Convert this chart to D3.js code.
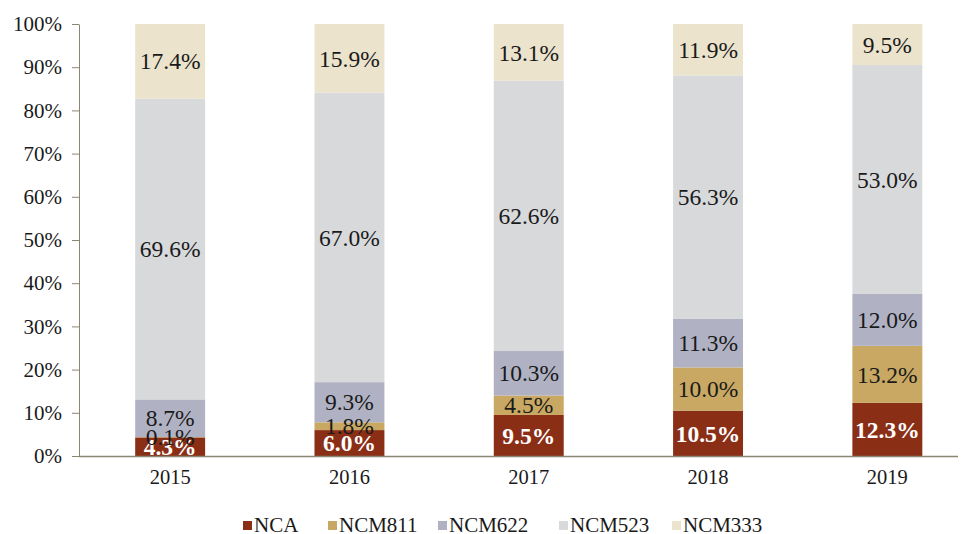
<!DOCTYPE html>
<html>
<head>
<meta charset="utf-8">
<style>
  body { margin: 0; background: #fff; }
  svg text { font-family: "Liberation Serif", "Times New Roman", Tinos, serif; }
</style>
</head>
<body>
<div id="chart"></div>
<script src="https://cdn.jsdelivr.net/npm/d3@7/dist/d3.min.js"></script>
<script>
const years = ["2015", "2016", "2017", "2018", "2019"];
const seriesNames = ["NCA", "NCM811", "NCM622", "NCM523", "NCM333"];
const colors = ["#8b2e16", "#c8a862", "#b0b2c4", "#d8d9db", "#ebe3cc"];
const nca    = [4.3, 6.0, 9.5, 10.5, 12.3];
const ncm811 = [0.1, 1.8, 4.5, 10.0, 13.2];
const ncm622 = [8.7, 9.3, 10.3, 11.3, 12.0];
const ncm523 = [69.6, 67.0, 62.6, 56.3, 53.0];
const ncm333 = [17.4, 15.9, 13.1, 11.9, 9.5];
const yTicks = [0, 10, 20, 30, 40, 50, 60, 70, 80, 90, 100];

const width = 964, height = 534;
const FONT = "'Liberation Serif', 'Times New Roman', serif";
const svg = d3.select("#chart").append("svg")
  .attr("width", width).attr("height", height)
  .attr("font-family", FONT);

const rows = years.map((yr, i) => ({
  year: yr, NCA: nca[i], NCM811: ncm811[i], NCM622: ncm622[i],
  NCM523: ncm523[i], NCM333: ncm333[i]
}));
const stacked = d3.stack().keys(seriesNames)(rows);

const x = d3.scaleBand().domain(years).range([80.5, 977]).paddingInner(0.61).paddingOuter(0.305);
const y = d3.scaleLinear().domain([0, 100]).range([456, 24]);

// bars
const groups = svg.append("g").selectAll("g")
  .data(stacked).enter().append("g")
  .attr("fill", (d, i) => colors[i]);

groups.selectAll("rect")
  .data(d => d)
  .enter().append("rect")
  .attr("x", d => x(d.data.year))
  .attr("width", x.bandwidth())
  .attr("y", d => y(Math.min(d[1], 100)))
  .attr("height", d => y(d[0]) - y(Math.min(d[1], 100)));

// labels
stacked.forEach((s, si) => {
  svg.append("g").selectAll("text")
    .data(s).enter().append("text")
    .attr("x", d => x(d.data.year) + x.bandwidth() / 2)
    .attr("y", d => y((d[0] + d[1]) / 2))
    .attr("dy", "0.35em")
    .attr("text-anchor", "middle")
    .attr("font-size", 23.5)
    .attr("font-weight", si === 0 ? "bold" : "normal")
    .attr("fill", si === 0 ? "#fff" : "#1a1a1a")
    .text(d => (d[1] - d[0]).toFixed(1) + "%");
});

// y axis
const yAxis = svg.append("g")
  .attr("transform", "translate(79,0)")
  .call(d3.axisLeft(y).tickValues(yTicks).tickSize(7).tickSizeOuter(0).tickFormat(d => d + "%"));
yAxis.attr("font-family", FONT);
yAxis.select(".domain").attr("stroke", "#8a8674");
yAxis.selectAll(".tick line").attr("stroke", "#8a8674");
yAxis.selectAll(".tick text")
  .attr("font-size", 21).attr("fill", "#1a1a1a").attr("x", -17);

// x axis
const xAxis = svg.append("g")
  .attr("transform", "translate(0,456)")
  .call(d3.axisBottom(x).tickSize(0));
xAxis.attr("font-family", FONT);
xAxis.select(".domain").remove();
svg.append("line")
  .attr("x1", 79).attr("x2", 958).attr("y1", 456.5).attr("y2", 456.5)
  .attr("stroke", "#8a8674").attr("stroke-width", 1.5);
xAxis.selectAll(".tick text")
  .attr("font-size", 20.5).attr("fill", "#1a1a1a").attr("dy", "1.2em");

// legend
const legendX = [243, 328, 438, 559, 672];
const legend = svg.append("g").selectAll("g")
  .data(seriesNames).enter().append("g")
  .attr("transform", (d, i) => `translate(${legendX[i]},525)`);
legend.append("rect")
  .attr("x", 0).attr("y", -4).attr("width", 9).attr("height", 9)
  .attr("fill", (d, i) => colors[i]);
legend.append("text")
  .attr("x", 11).attr("dy", "0.33em")
  .attr("font-size", 21).attr("fill", "#1a1a1a")
  .text(d => d);
</script>
</body>
</html>
